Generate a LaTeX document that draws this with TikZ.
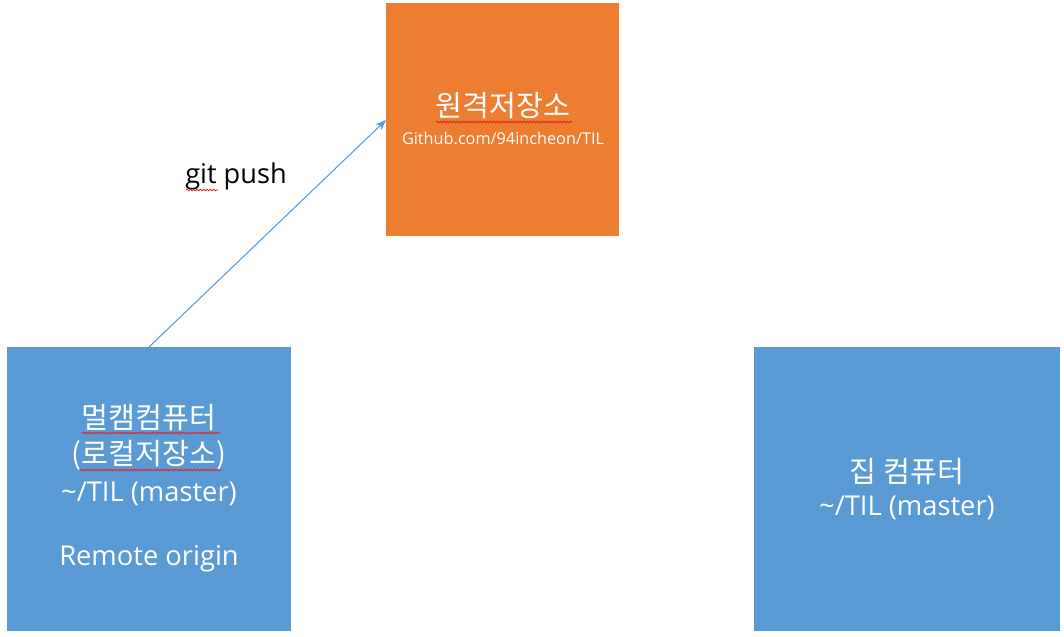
\documentclass[tikz,border=0pt]{standalone}
\usepackage{fontspec}
\setmainfont{Open Sans}
\newfontfamily\kor[Scale=1.07]{Noto Sans CJK KR}
\usetikzlibrary{arrows.meta,decorations.pathmorphing}
\definecolor{orangebox}{HTML}{ED7D31}
\definecolor{bluebox}{HTML}{5B9BD5}
\definecolor{squiggle}{HTML}{E02020}
\tikzset{
  px/.style={x=0.75pt,y=-0.75pt},
  boxtext/.style={text=white,align=center,inner sep=0pt,font=\fontsize{20.5}{24}\selectfont},
  spell/.style={draw=squiggle,line width=0.6pt,decorate,decoration={snake,amplitude=0.6pt,segment length=2.5pt}},
}
\begin{document}
\begin{tikzpicture}[px]
\useasboundingbox (0,0) rectangle (1064,636);
\fill[orangebox] (386,3) rectangle (619,236);
\fill[bluebox] (7,347) rectangle (291,631);
\fill[bluebox] (754,347) rectangle (1060,631);
\coordinate (remote) at (386,120);
\coordinate (local) at (149,347);
\node[boxtext] (rt) at (503,106) {\kor 원격저장소};
\node[text=white,inner sep=0pt,font=\fontsize{12.2}{14}\selectfont] (rurl) at (503,138) {Github.com/94incheon/TIL};
\node[boxtext] (l1) at (149,418) {\kor 멀캠컴퓨터};
\node[boxtext] (l2) at (149,455) {\kor(로컬저장소)};
\node[boxtext] (l3) at (149,494) {\textasciitilde/TIL (master)};
\node[boxtext] (l4) at (149,559) {Remote origin};
\node[boxtext] (h1) at (907,472) {\kor 집 컴퓨터};
\node[boxtext] (h2) at (907,508) {\textasciitilde/TIL (master)};
\draw[bluebox,line width=0.8pt,-{Stealth[length=8pt,width=6pt]}] (local) -- (remote);
\node[inner sep=0pt,font=\fontsize{20.4}{24}\selectfont] (gp) at (236,176) {git push};
\draw[spell] (436,122) -- (572,122);
\draw[spell] (186,190) -- (218,190);
\draw[spell] (82,433) -- (220,433);
\draw[spell] (80,470) -- (222,470);
\end{tikzpicture}
\end{document}
